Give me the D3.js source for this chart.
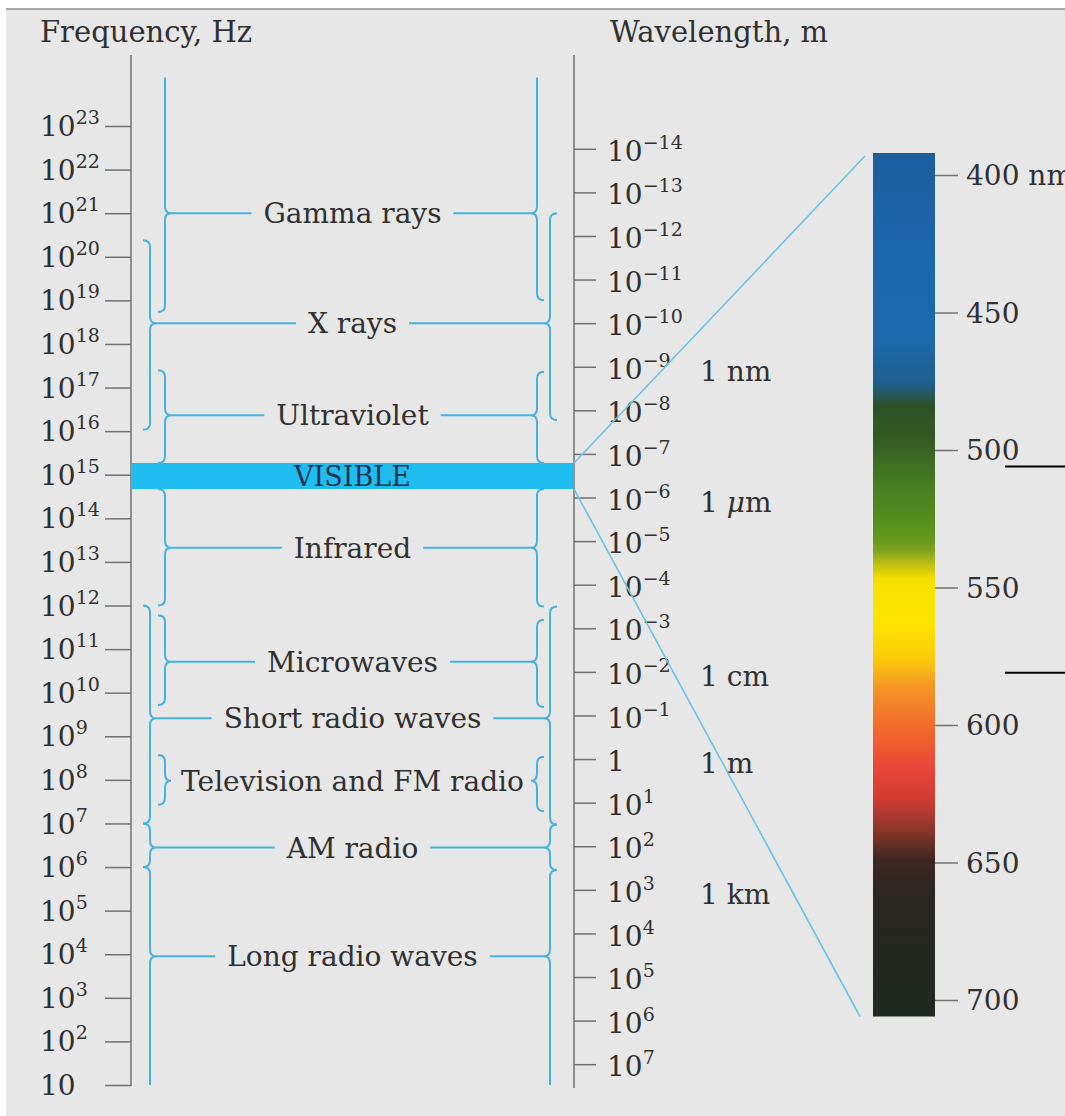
<!DOCTYPE html>
<meta charset="utf-8">
<script src="https://cdn.jsdelivr.net/npm/d3@7"></script>
<style>
  body { margin: 0; background: #fff; }
  text { font-family: "DejaVu Serif", serif; fill: #303030; }
</style>
<div id="chart"></div>
<script>

// frequency axis: exponents of 10 (Hz)
var freqExps = d3.range(1, 24);
// wavelength axis: exponents of 10 (m)
var lambdaExps = d3.range(-14, 8);
var lightSpeed = 3e8;

// named wavelengths shown next to the right axis
var unitPrefix = ["1 n", "1 ", "1 c", "1 ", "1 k"];
var unitItalic = ["", "\u03bc", "", "", ""];
var unitLambda = [1e-9, 1e-6, 1e-2, 1, 1e3];

// spectrum bands (frequencies in Hz)
var bandNames = ["Gamma rays", "X rays", "Ultraviolet", "Infrared", "Microwaves",
  "Short radio waves", "Television and FM radio", "AM radio", "Long radio waves"];
var bandColumn = ["inner", "outer", "inner", "inner", "inner", "outer", "inner", "outer", "outer"];
var bandPeak = [1e21, 3e18, 2.3e16, 2.1e13, 5.1e10, 2.6e9, 9.5e7, 2.8e6, 9e3];
var leftHigh = [1.3e24, 2.4e20, 2.5e17, 4.7e14, 6e11, 1e12, 3.7e8, 1e7, 1e6];
var leftLow = [5.4e18, 1.07e16, 1.86e15, 1e12, 5.2e9, 1e7, 2.7e7, 1e6, 10];
var rightHigh = [1.3e24, 1e21, 2.3e17, 4.7e14, 4.7e11, 9.5e11, 3.4e8, 9.5e6, 8.5e5];
var rightLow = [1e19, 1.8e16, 1.86e15, 9.5e11, 4.7e9, 9.5e6, 1.9e7, 8.5e5, 10];
var openTop = ["Gamma rays"], openBottom = ["Long radio waves"];
var bandHasLine = [true, true, true, true, true, true, false, true, true];

// visible band (Hz)
var visibleHigh = 1.86e15, visibleLow = 4.7e14;

// visible colour bar (nm)
var barRange = [392, 706];
var barTicks = [400, 450, 500, 550, 600, 650, 700];
var stopNm = [392, 431, 460, 476, 484, 496, 511, 529, 536, 541, 547, 562, 576, 585, 595, 605, 616, 627, 638, 649, 664, 706];
var stopColor = ["#1d5e9e", "#1b66ab", "#1c69aa", "#1f5f8c", "#2e5228", "#365a24", "#467a22", "#5c921f",
  "#78a01c", "#b8bc14", "#f6e000", "#ffe600", "#fbca0c", "#f59a22", "#f27a2a", "#f0602e", "#e8463a",
  "#d03c32", "#8c362a", "#3e2622", "#2a2622", "#1e2a20"];
var markerNm = [506, 581];

var width = 1065, height = 1116;
var cyan = "#45b2e2", axisGray = "#707070";

var svg = d3.select("#chart").append("svg")
  .attr("width", width).attr("height", height);

// paper
svg.append("rect").attr("x", 6).attr("y", 9).attr("width", width - 6).attr("height", height - 9)
  .attr("fill", "#e7e7e7");
svg.append("line").attr("x1", 6).attr("x2", width).attr("y1", 9).attr("y2", 9)
  .attr("stroke", "#8c8c8c").attr("stroke-width", 1.5);

var y = d3.scaleLog().domain([1e23, 10]).range([126, 1085]);
var leftX = 131, rightX = 574;
var colX = {left: {inner: 165, outer: 150}, right: {inner: 537, outer: 550}};

// headers
svg.append("text").attr("x", 40).attr("y", 42).attr("font-size", 29).text("Frequency, Hz");
svg.append("text").attr("x", 610).attr("y", 42).attr("font-size", 29).text("Wavelength, m");

// axes lines
svg.append("line").attr("x1", leftX).attr("x2", leftX).attr("y1", 55).attr("y2", 1086)
  .attr("stroke", axisGray).attr("stroke-width", 1.5);
svg.append("line").attr("x1", rightX).attr("x2", rightX).attr("y1", 55).attr("y2", 1088)
  .attr("stroke", axisGray).attr("stroke-width", 1.5);

var leftAxis = svg.append("g").attr("transform", "translate(" + leftX + ",0)")
  .call(d3.axisLeft(y).tickValues(freqExps.map(function(e) { return Math.pow(10, e); }))
    .tickSize(26).tickSizeOuter(0).tickFormat(""));
var rightAxis = svg.append("g").attr("transform", "translate(" + rightX + ",0)")
  .call(d3.axisRight(y).tickValues(lambdaExps.map(function(e) { return lightSpeed / Math.pow(10, e); }))
    .tickSize(22).tickSizeOuter(0).tickFormat(""));
[leftAxis, rightAxis].forEach(function(a) {
  a.select(".domain").remove();
  a.selectAll(".tick line").attr("stroke", axisGray).attr("stroke-width", 1.5);
});

function powLabel(g, x, yy, exp, supSize) {
  var t = g.append("text").attr("x", x).attr("y", yy).attr("dy", "0.36em").attr("font-size", 28);
  if (exp === null) { t.text("1"); return t; }
  if (exp === 1 && supSize === 0) { t.text("10"); return t; }
  t.append("tspan").text("10");
  t.append("tspan").attr("font-size", supSize).attr("dy", -12)
    .text(String(exp).replace("-", "\u2212"));
  return t;
}

freqExps.forEach(function(e) {
  powLabel(svg, 40, y(Math.pow(10, e)), e === 1 ? 1 : e, e === 1 ? 0 : 19);
});
lambdaExps.forEach(function(e) {
  powLabel(svg, 607, y(lightSpeed / Math.pow(10, e)) + 2, e === 0 ? null : e, 19);
});

unitPrefix.forEach(function(p, i) {
  var t = svg.append("text").attr("x", 700).attr("y", y(lightSpeed / unitLambda[i]) + 4)
    .attr("dy", "0.36em").attr("font-size", 28);
  t.append("tspan").text(p);
  if (unitItalic[i]) t.append("tspan").attr("font-style", "italic").text(unitItalic[i]);
  t.append("tspan").text("m");
});

// braces
function bracePath(x, yt, yb, yc, dir, isOpenTop, isOpenBottom) {
  var r = 7, d = 6, p = d3.path();
  if (isOpenTop) p.moveTo(x, yt);
  else { p.moveTo(x - dir * r, yt); p.quadraticCurveTo(x, yt, x, yt + r); }
  p.lineTo(x, yc - r);
  p.quadraticCurveTo(x, yc, x + dir * d, yc);
  p.quadraticCurveTo(x, yc, x, yc + r);
  if (isOpenBottom) p.lineTo(x, yb);
  else { p.lineTo(x, yb - r); p.quadraticCurveTo(x, yb, x - dir * r, yb); }
  return p.toString();
}

var midX = (leftX + rightX) / 2;
bandNames.forEach(function(name, i) {
  var yc = y(bandPeak[i]);
  var ot = openTop.indexOf(name) >= 0, ob = openBottom.indexOf(name) >= 0;
  var xl = colX.left[bandColumn[i]], xr = colX.right[bandColumn[i]];
  svg.append("path").attr("d", bracePath(xl, y(leftHigh[i]), y(leftLow[i]), yc, 1, ot, ob))
    .attr("fill", "none").attr("stroke", cyan).attr("stroke-width", 2);
  svg.append("path").attr("d", bracePath(xr, y(rightHigh[i]), y(rightLow[i]), yc, -1, ot, ob))
    .attr("fill", "none").attr("stroke", cyan).attr("stroke-width", 2);
  var t = svg.append("text").attr("x", midX).attr("y", yc).attr("dy", "0.36em")
    .attr("text-anchor", "middle").attr("font-size", 28).text(name);
  if (bandHasLine[i]) {
    var w = t.node().getComputedTextLength();
    svg.append("line").attr("x1", xl + 6).attr("x2", midX - w / 2 - 12).attr("y1", yc).attr("y2", yc)
      .attr("stroke", cyan).attr("stroke-width", 2);
    svg.append("line").attr("x1", midX + w / 2 + 12).attr("x2", xr - 6).attr("y1", yc).attr("y2", yc)
      .attr("stroke", cyan).attr("stroke-width", 2);
  }
});

// visible band
svg.append("rect").attr("x", leftX).attr("y", y(visibleHigh))
  .attr("width", rightX - leftX).attr("height", y(visibleLow) - y(visibleHigh))
  .attr("fill", "#1fbdf0");
svg.append("text").attr("x", midX).attr("y", (y(visibleHigh) + y(visibleLow)) / 2).attr("dy", "0.36em")
  .attr("text-anchor", "middle").attr("font-size", 27).style("fill", "#1b3550").text("VISIBLE");

// colour bar
var nm = d3.scaleLinear().domain([400, 700]).range([175, 1000]);
var barX = 873, barW = 62;
var grad = svg.append("defs").append("linearGradient").attr("id", "spec")
  .attr("x1", 0).attr("x2", 0).attr("y1", 0).attr("y2", 1);
stopNm.forEach(function(v, i) {
  grad.append("stop").attr("offset", (v - barRange[0]) / (barRange[1] - barRange[0]))
    .attr("stop-color", stopColor[i]);
});
svg.append("rect").attr("x", barX).attr("y", nm(barRange[0])).attr("width", barW)
  .attr("height", nm(barRange[1]) - nm(barRange[0])).attr("fill", "url(#spec)");

var barAxis = svg.append("g").attr("transform", "translate(" + (barX + barW) + ",0)")
  .call(d3.axisRight(nm).tickValues(barTicks).tickSize(23).tickSizeOuter(0).tickFormat(""));
barAxis.select(".domain").remove();
barAxis.selectAll(".tick line").attr("stroke", axisGray).attr("stroke-width", 1.5);
barTicks.forEach(function(v, i) {
  svg.append("text").attr("x", 966).attr("y", nm(v)).attr("dy", "0.36em").attr("font-size", 28)
    .text(i === 0 ? v + " nm" : v);
});

// connecting lines
svg.append("line").attr("x1", rightX).attr("y1", y(visibleHigh))
  .attr("x2", barX - 8).attr("y2", nm(barRange[0]) + 3)
  .attr("stroke", "#6cc3ea").attr("stroke-width", 1.6);
svg.append("line").attr("x1", rightX).attr("y1", y(visibleLow))
  .attr("x2", barX - 13).attr("y2", nm(barRange[1]))
  .attr("stroke", "#6cc3ea").attr("stroke-width", 1.6);

// black marker strokes at the right edge
markerNm.forEach(function(v) {
  svg.append("line").attr("x1", 1005).attr("x2", width).attr("y1", nm(v)).attr("y2", nm(v))
    .attr("stroke", "#000").attr("stroke-width", 2);
});

</script>
